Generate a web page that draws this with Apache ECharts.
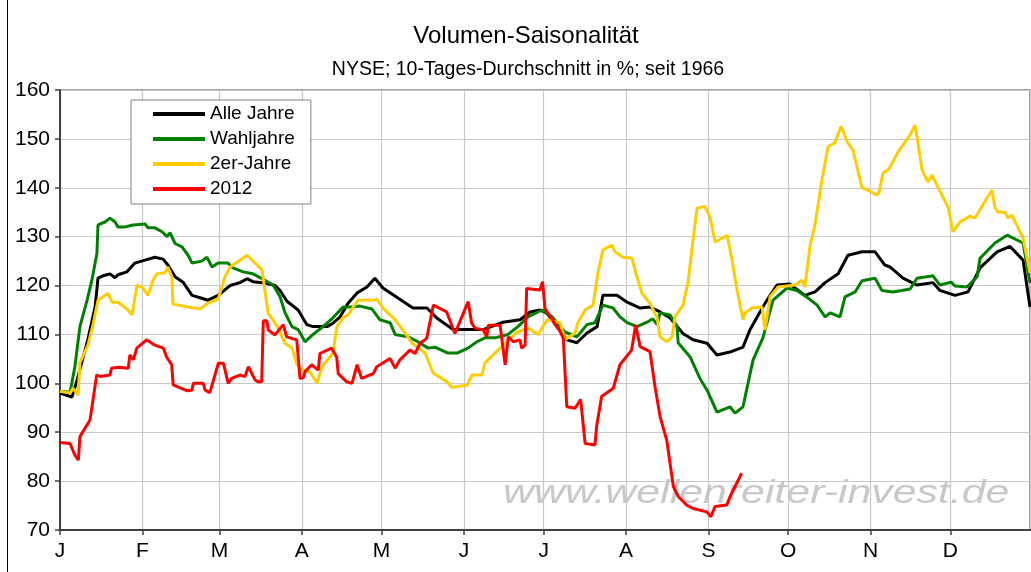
<!DOCTYPE html>
<html>
<head>
<meta charset="utf-8">
<script src="https://cdn.jsdelivr.net/npm/echarts@6/dist/echarts.min.js"></script>
<style>
  body { margin: 0; background: #fff; }
  #main { width: 1031px; height: 572px; }
</style>
</head>
<body>
<div id="main"></div>
<script>
// Monatsbuchstaben und erster Tag (Schaltjahr, 0 = 1. Januar)
var monthLetters = ["J", "F", "M", "A", "M", "J", "J", "A", "S", "O", "N", "D"];
var monthStarts = [0, 31, 60, 91, 121, 152, 182, 213, 244, 274, 305, 335];
var yTicks = { min: 70, max: 160, step: 10 };

// [Tag im Jahr, Volumen in %]
var alleJahre = [[0,98],[4.5,97.2],[6.4,100.6],[10.5,109],[13.2,115.6],[14.3,121.5],[16.2,122],[18.8,122.4],[20.7,121.6],[21.8,122.2],[25.2,122.8],[28.2,124.6],[32,125.2],[35.7,125.8],[38.8,125.4],[40.6,124.2],[43.3,121.8],[46.3,120.7],[49.7,118],[52.7,117.5],[55.7,117],[59.5,118],[64,120],[67.7,120.6],[70.4,121.4],[72.6,120.8],[77.1,120.5],[80.9,120],[82.8,119],[85.4,116.8],[89.6,115],[92.9,112],[95.2,111.6],[100.5,111.6],[102.7,112.3],[105.4,113.6],[108.4,116.4],[111.8,118.5],[115.5,119.7],[118.5,121.5],[121.5,119.5],[132.8,115.4],[138.1,115.4],[141.9,113.3],[147.9,111],[159.2,111],[166.7,112.5],[173.1,113],[176.9,114.6],[180.6,115],[183.3,114.3],[187,111.6],[190.8,108.9],[194.5,108.3],[198.3,110.3],[202.1,111.6],[204.3,118],[209.6,118],[213.4,116.6],[218.3,115.4],[222,115.6],[225.8,114.6],[229.5,113.4],[234.4,110.2],[238.2,108.9],[243.5,108.2],[247.2,105.8],[252.1,106.4],[257,107.4],[259.6,110.9],[263.4,114.6],[266,117],[269.8,120.1],[274.7,120.3],[280.3,118],[284.1,118.7],[287.9,120.6],[292.8,122.4],[296.5,126.2],[301.8,126.9],[306.7,126.9],[310.4,124.2],[312.3,123.8],[317.2,121.5],[322.5,120.1],[328.5,120.6],[331.1,119],[336.8,118],[341.7,118.7],[346.2,123.6],[352.6,126.9],[357.5,128],[362.4,125.2],[365,115.6]];

var wahljahre = [[0,98.4],[3.8,98.2],[5.6,103.4],[7.5,111.6],[10.2,117],[12,121.1],[13.9,126.6],[14.3,132.4],[16.9,133],[18.8,133.8],[20.7,133],[21.8,132],[24.5,132],[27.5,132.4],[32,132.6],[33.1,131.8],[35.7,131.8],[38.4,131],[40.3,130],[41.4,130.8],[43.3,128.6],[45.9,127.9],[48.2,126.2],[49.7,124.6],[53.4,125],[55.3,125.8],[57.2,123.8],[59.5,124.6],[63.2,124.6],[65.1,123.6],[68.9,122.8],[72.6,122.4],[76.4,121.3],[80.2,120.1],[82.8,117.7],[84.7,114.4],[87.3,111.6],[89.6,111],[92.2,108.5],[95.2,110],[99,111.6],[102.7,113.4],[106.5,115.6],[109.9,115.6],[112.9,115.8],[117.4,115.2],[120.4,113],[124.2,112.4],[126.1,110],[131,109.5],[134.7,108.5],[138.5,107.2],[141.1,107.4],[146,106.2],[149.4,106.2],[153.5,107.2],[156.9,108.5],[159.9,109.3],[163.7,109.3],[168.6,110],[172.3,111.6],[176.1,113.6],[181.4,115],[185.1,113.6],[190,110.5],[194.5,109.5],[198.3,112],[201.3,112.4],[204.3,116],[208.1,115.4],[210.7,113.6],[213.4,112.4],[217.1,111.6],[220.9,112.5],[223.1,113.2],[224.7,112],[225.8,114.4],[229.5,114],[232.2,111.6],[232.6,108.3],[237.1,105.4],[240.8,101],[243.5,98.6],[247.2,94.1],[252.1,95.2],[254,93.9],[257,95.2],[260.8,104.8],[264.5,109.3],[268.3,117],[273.6,119.5],[277.3,119],[281.1,117.6],[284.9,116],[287.9,113.6],[289.8,114.4],[293.5,113.6],[295.4,117.7],[299.2,118.7],[301.8,121],[306.7,121.5],[309.3,119],[313.5,118.7],[319.9,119.3],[322.5,121.5],[328.5,122],[331.1,120.1],[335.3,120.7],[336.8,119.9],[341.3,119.7],[345.1,121.8],[346.2,125.6],[351.8,128.7],[356.4,130.3],[362.4,128.7],[365,120.5]];

var zweierJahre = [[0,98.4],[3.8,98],[4.9,99],[6.8,97.6],[7.5,104.2],[10.5,107.8],[12.4,111.9],[14.3,117],[18.1,118.4],[19.6,116.6],[21.8,116.6],[25.6,115],[27.1,114],[29,120.1],[31.2,119.5],[33.1,118],[35,121.1],[36.5,122.4],[39.5,122.6],[40.6,123.8],[42.1,121.8],[42.5,116.2],[48.2,115.6],[52.7,115.2],[55.7,116.4],[59.5,117.2],[62.1,121.8],[64,123.8],[70.4,126.2],[76,123.2],[78.3,114.4],[81.7,111.7],[84.7,108.2],[87.3,107.2],[89.2,103.8],[91.4,102.7],[94.1,102.3],[96.7,100],[98.6,103.4],[102.7,106.2],[104.2,111.6],[106.5,113.4],[108.4,114],[112.1,117],[117.8,117],[119.3,117.2],[121.5,115.4],[126.1,113],[129.8,110.3],[132.5,108.2],[137.4,106.2],[140.4,102.1],[145.6,100.3],[147.5,99.2],[153.2,99.6],[155,101.7],[158.8,101.7],[159.9,104.2],[163.7,106.2],[167.5,108.2],[172,110.5],[176.1,111.3],[179.9,110],[183.3,113],[188.2,112.4],[190,108.9],[193.8,110.3],[194.9,112.4],[197.6,115],[200.6,116],[202.4,122.6],[204.3,127.3],[207.7,128.3],[208.8,126.9],[211.9,125.8],[215.2,125.6],[217.1,121.8],[219,118.4],[222,116.4],[224.7,113.4],[225.8,109.5],[228.4,108.5],[230.3,109.5],[231.4,113.6],[234.4,116],[236.3,120.6],[238.2,129.3],[239.7,135.8],[242.7,136.2],[244.6,134],[246.5,128.9],[251,130.3],[252.9,125.2],[254.8,119],[257,113],[257.8,114.4],[260.4,115.4],[264.2,115.6],[265.3,110.9],[267.2,117.7],[270.2,119.7],[276.6,120.1],[279.2,121.1],[280.3,119.7],[282.2,128],[284.1,132.4],[286.7,141.6],[289,148.4],[291.6,149.2],[293.9,152.6],[296.2,149.4],[298.4,147.7],[301.8,140],[304,139.5],[307.4,138.5],[308.2,139],[309.7,143],[311.9,143.8],[315.3,147.3],[319.9,150.8],[321.7,152.8],[322.5,150.4],[324.4,143.6],[326.6,141.2],[328.1,142.6],[334.2,136],[336,131],[338.7,133],[342.4,134.2],[344.3,133.8],[348.8,137.9],[350.7,139.5],[351.8,136],[353,135],[355.6,135],[356.7,133.8],[358.2,134.4],[362.4,129.7],[365,122.6]];

var jahr2012 = [[0,87.9],[3.8,87.7],[5.6,85.3],[6.9,84.3],[7.5,89.1],[11.3,92.5],[13.8,101.7],[15.1,101.4],[18.8,101.7],[19.4,103.1],[21.9,103.3],[25.7,103.1],[26.3,105.8],[27.6,104.8],[28.9,107.2],[32.6,108.9],[35.7,107.8],[38.9,107.2],[40.1,105.4],[42,103.8],[42.6,99.7],[47.7,98.5],[49.6,98.6],[50.2,100],[53.9,100],[54.6,98.6],[56.4,98.1],[59.6,104.1],[61.5,104.1],[63.3,100],[64.6,101],[67.7,101.7],[69.6,101.4],[70.9,103.4],[73.4,100.7],[74.6,100.3],[75.9,100.3],[76.5,112.8],[77.8,112.8],[78.4,110.9],[80.9,109.9],[84,112],[85.3,109.5],[89.1,108.9],[90.3,101],[91.6,101.2],[92.2,102.4],[94.7,103.8],[97.2,102.7],[97.8,106.1],[102.2,107.2],[104.1,105.4],[104.7,102],[107.9,100.3],[109.9,100],[111.8,103.8],[113.5,101],[117.9,102],[119.2,103.4],[124.2,105.1],[126.1,103.1],[127.9,104.8],[131.7,106.8],[133.6,106.1],[135.5,108.2],[138,109.2],[140.5,116],[143,115.3],[145.5,114.6],[148.6,110.2],[153.6,116.7],[154.9,112.3],[156.2,111.3],[159.3,110.9],[160.6,109.5],[161.2,111.9],[165.6,111.9],[167.5,103.8],[168.7,109.5],[170.6,108.5],[173.1,108.9],[173.7,107.2],[175,107.8],[175.6,119.4],[180.6,119.1],[181.6,120.8],[182.5,115.3],[188.2,110.6],[189.4,109.2],[190.7,95.2],[193.8,94.9],[195.9,96.7],[197.6,87.7],[201.3,87.4],[201.9,91.1],[203.8,97.3],[208.2,99],[210.7,103.8],[215.1,106.8],[216.6,111.9],[218.3,107.5],[222,106.5],[223.9,99.3],[225.8,93.2],[228.3,88.4],[230.8,78.9],[232.7,76.8],[235.8,75.1],[238.3,74.4],[243.4,73.7],[244.9,72.7],[246.5,74.8],[250.9,75.1],[252.1,76.8],[256.5,81.6]];

var font = "'Liberation Sans', Arial, sans-serif";

// eine Kategorie pro Tag, Buchstabe nur am Monatsanfang
var dayLabels = [];
for (var d = 0; d <= 365; d++) {
  var m = monthStarts.indexOf(d);
  dayLabels.push(m >= 0 ? monthLetters[m] : "");
}
function isMonthStart(i) {
  return monthStarts.indexOf(i) >= 0;
}

var myChart = echarts.init(document.getElementById("main"));

function line(name, data, color) {
  return {
    name: name,
    type: "line",
    data: data,
    xAxisIndex: 0,
    showSymbol: false,
    symbol: "none",
    animation: false,
    lineStyle: { color: color, width: 3 },
    itemStyle: { color: color },
  };
}

var option = {
  backgroundColor: "#fff",
  title: [
    {
      text: "Volumen-Saisonalität",
      left: 521,
      top: 19,
      textAlign: "center",
      textStyle: { fontFamily: font, fontSize: 24, fontWeight: "normal", color: "#000" },
    },
    {
      text: "NYSE; 10-Tages-Durchschnitt in %; seit 1966",
      left: 523,
      top: 55,
      textAlign: "center",
      textStyle: { fontFamily: font, fontSize: 19.5, fontWeight: "normal", color: "#000" },
    },
  ],
  legend: {
    orient: "vertical",
    left: 131,
    top: 100,
    padding: [4, 16, 5, 22],
    icon: "rect",
    itemWidth: 52,
    itemHeight: 4,
    itemGap: 5,
    borderColor: "#808080",
    borderWidth: 1,
    backgroundColor: "#fff",
    textStyle: { fontFamily: font, fontSize: 19, lineHeight: 20, color: "#000" },
    data: ["Alle Jahre", "Wahljahre", "2er-Jahre", "2012"],
  },
  grid: {
    left: 60,
    right: 1,
    top: 90,
    bottom: 42,
    show: true,
    borderColor: "#808080",
    borderWidth: 1.5,
  },
  xAxis: [
    { type: "value", min: 0, max: 365, show: false },
    {
      type: "category",
      data: dayLabels,
      boundaryGap: false,
      position: "bottom",
      axisLine: { lineStyle: { color: "#404040", width: 2 } },
      axisTick: { interval: isMonthStart, length: 5, lineStyle: { color: "#404040", width: 1.5 } },
      axisLabel: { interval: isMonthStart, margin: 11, fontFamily: font, fontSize: 21, color: "#000" },
      splitLine: {
        show: true,
        interval: function (i) { return isMonthStart(i) || i === 365; },
        lineStyle: { color: "#c8c8c8", width: 1.2 },
      },
    },
  ],
  yAxis: {
    type: "value",
    min: yTicks.min,
    max: yTicks.max,
    interval: yTicks.step,
    axisLine: { show: true, lineStyle: { color: "#404040", width: 2 } },
    axisTick: { show: true, length: 5, lineStyle: { color: "#404040", width: 1.5 } },
    axisLabel: { margin: 10, fontFamily: font, fontSize: 21, color: "#000" },
    splitLine: { lineStyle: { color: "#c8c8c8", width: 1.2 } },
  },
  graphic: [
    {
      type: "line",
      shape: { x1: 7.5, y1: 0, x2: 7.5, y2: 572 },
      style: { stroke: "#000", lineWidth: 1 },
      silent: true,
    },
    {
      type: "text",
      left: 503,
      top: 477,
      scaleX: 1.26,
      z: -1,
      style: {
        text: "www.wellenreiter-invest.de",
        font: "italic 34px " + font,
        fill: "#c8c8c8",
        shadowBlur: 2,
        shadowColor: "#d0d0d0",
      },
      silent: true,
    },
  ],
  series: [
    line("Alle Jahre", alleJahre, "#000000"),
    line("Wahljahre", wahljahre, "#008000"),
    line("2er-Jahre", zweierJahre, "#ffcc00"),
    line("2012", jahr2012, "#ff0000"),
  ],
};

myChart.setOption(option);
</script>
</body>
</html>
